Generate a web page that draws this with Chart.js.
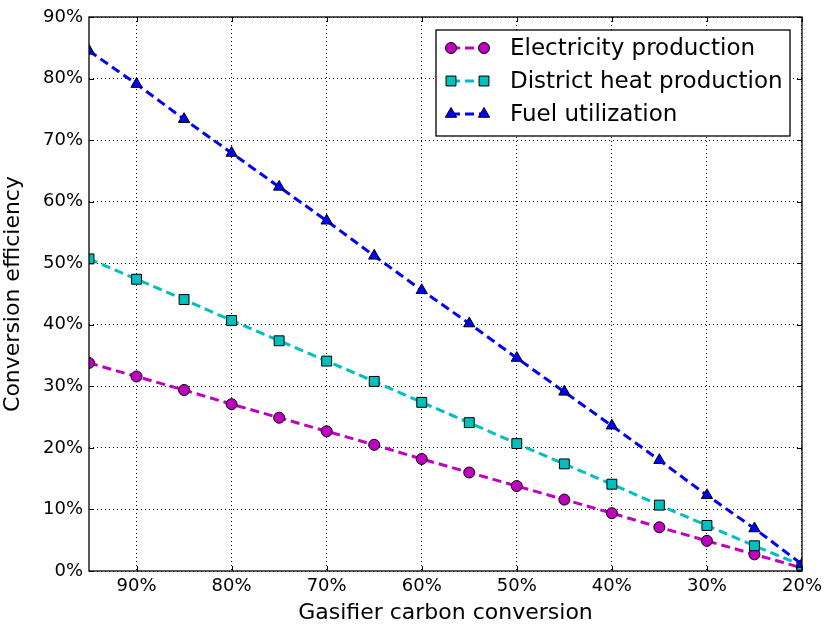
<!DOCTYPE html>
<html>
<head>
<meta charset="utf-8">
<script src="https://cdn.jsdelivr.net/npm/chart.js@4/dist/chart.umd.min.js"></script>
<style>
html,body{margin:0;padding:0;background:#fff;}
#wrap{width:827px;height:626px;position:relative;}
</style>
</head>
<body>
<div id="wrap"><canvas id="c" width="827" height="626"></canvas></div>
<script>
const conversion = [95, 90, 85, 80, 75, 70, 65, 60, 55, 50, 45, 40, 35, 30, 25, 20];
const electricity = [33.8, 31.6, 29.4, 27.1, 24.9, 22.7, 20.5, 18.2, 16.0, 13.8, 11.6, 9.4, 7.1, 4.9, 2.7, 0.5];
const districtHeat = [50.7, 47.4, 44.1, 40.7, 37.4, 34.1, 30.8, 27.4, 24.1, 20.7, 17.4, 14.1, 10.7, 7.4, 4.1, 0.9];
const fuelUtilization = [84.5, 79.1, 73.4, 67.9, 62.4, 56.9, 51.2, 45.6, 40.2, 34.6, 29.1, 23.6, 18.0, 12.3, 6.9, 1.1];
const xTicks = [90, 80, 70, 60, 50, 40, 30, 20];
const yTicks = [0, 10, 20, 30, 40, 50, 60, 70, 80, 90];
const seriesNames = ['Electricity production', 'District heat production', 'Fuel utilization'];

const FONT = "'DejaVu Sans', sans-serif";
const toPts = arr => arr.map((v, i) => ({x: conversion[i], y: v}));

const styles = [
  {color: '#bf00bf', pointStyle: 'circle', radius: 5.5},
  {color: '#00bfbf', pointStyle: 'rect', radius: 7},
  {color: '#0000ff', pointStyle: 'triangle', radius: 6.5}
];
const seriesData = [electricity, districtHeat, fuelUtilization];
const DASH = [9, 5];
const LW = 3;

const datasets = seriesData.map((d, i) => ({
  label: seriesNames[i],
  data: toPts(d),
  borderColor: styles[i].color,
  backgroundColor: styles[i].color,
  pointBackgroundColor: styles[i].color,
  pointBorderColor: '#000',
  pointBorderWidth: 1,
  pointStyle: styles[i].pointStyle,
  pointRadius: styles[i].radius,
  pointHoverRadius: styles[i].radius,
  borderWidth: LW,
  borderDash: DASH,
  tension: 0,
  fill: false,
  clip: 0,
  order: 3 - i
}));

const framePlugin = {
  id: 'frame',
  afterDraw(chart) {
    const ctx = chart.ctx;
    const a = chart.chartArea;
    const xs = chart.scales.x, ys = chart.scales.y;
    ctx.save();
    ctx.strokeStyle = '#000';
    ctx.lineWidth = 1;
    ctx.setLineDash([]);
    const tl = 5;
    ctx.beginPath();
    xTicks.forEach(v => {
      const px = Math.round(xs.getPixelForValue(v)) + 0.5;
      ctx.moveTo(px, a.bottom); ctx.lineTo(px, a.bottom - tl);
      ctx.moveTo(px, a.top); ctx.lineTo(px, a.top + tl);
    });
    yTicks.forEach(v => {
      const py = Math.round(ys.getPixelForValue(v)) + 0.5;
      ctx.moveTo(a.left, py); ctx.lineTo(a.left + tl, py);
      ctx.moveTo(a.right, py); ctx.lineTo(a.right - tl, py);
    });
    ctx.stroke();
    ctx.lineWidth = 1.3;
    ctx.strokeRect(a.left, a.top, a.right - a.left, a.bottom - a.top);

    const bx = a.right - 366, by = a.top + 13, bw = 354, bh = 106;
    ctx.fillStyle = '#fff';
    ctx.fillRect(bx, by, bw, bh);
    ctx.lineWidth = 1.3;
    ctx.strokeRect(bx, by, bw, bh);
    chart.data.datasets.forEach((ds, i) => {
      const cy = by + 18 + i * 33;
      const x1 = bx + 15, x2 = bx + 48;
      ctx.save();
      ctx.strokeStyle = ds.borderColor;
      ctx.lineWidth = LW;
      ctx.setLineDash(DASH);
      ctx.beginPath();
      ctx.moveTo(x1, cy); ctx.lineTo(x2, cy);
      ctx.stroke();
      ctx.restore();
      [x1, x2].forEach(px => {
        ctx.save();
        ctx.fillStyle = ds.pointBackgroundColor;
        ctx.strokeStyle = '#000';
        ctx.lineWidth = 1;
        Chart.helpers.drawPoint(ctx, {pointStyle: ds.pointStyle, radius: ds.pointRadius, borderWidth: 1, rotation: 0}, px, cy);
        ctx.restore();
      });
      ctx.fillStyle = '#000';
      ctx.font = '23px ' + FONT;
      ctx.textAlign = 'left';
      ctx.textBaseline = 'middle';
      ctx.fillText(ds.label, bx + 74, cy + 1);
    });
    ctx.restore();
  }
};

new Chart(document.getElementById('c'), {
  type: 'line',
  data: {datasets},
  options: {
    responsive: false,
    animation: false,
    events: [],
    layout: {padding: {top: 17, right: 23, left: 0, bottom: 0}},
    plugins: {legend: {display: false}, tooltip: {enabled: false}},
    scales: {
      x: {
        type: 'linear',
        reverse: true,
        min: 20, max: 95,
        afterBuildTicks: s => { s.ticks = xTicks.map(v => ({value: v})); },
        afterFit: s => { s.height = 55; },
        grid: {color: '#000', lineWidth: 1, drawTicks: false},
        border: {display: false, dash: [1, 3]},
        ticks: {
          color: '#000', padding: 5, maxRotation: 0,
          font: {family: FONT, size: 18},
          callback: v => v + '%'
        },
        title: {display: true, text: 'Gasifier carbon conversion', color: '#000',
          font: {family: FONT, size: 22}, padding: {top: 0, bottom: 0}}
      },
      y: {
        type: 'linear',
        min: 0, max: 90,
        afterBuildTicks: s => { s.ticks = yTicks.map(v => ({value: v})); },
        afterFit: s => { s.width = 89; },
        grid: {color: '#000', lineWidth: 1, drawTicks: false},
        border: {display: false, dash: [1, 3]},
        ticks: {
          color: '#000', padding: 6,
          font: {family: FONT, size: 18},
          callback: v => v + '%'
        },
        title: {display: true, text: 'Conversion efficiency', color: '#000',
          font: {family: FONT, size: 22}, padding: {top: 0, bottom: 0}}
      }
    }
  },
  plugins: [framePlugin]
});
</script>
</body>
</html>
